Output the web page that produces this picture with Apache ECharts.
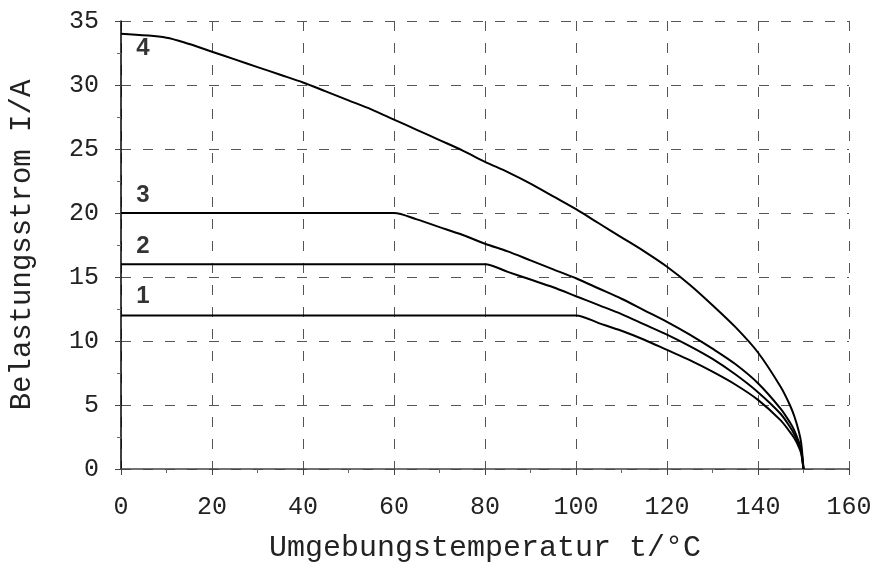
<!DOCTYPE html>
<html><head><meta charset="utf-8">
<script src="https://cdn.jsdelivr.net/npm/echarts@6/dist/echarts.min.js"></script>
<style>html,body{margin:0;padding:0;background:#fff}#c{width:882px;height:571px}</style>
</head><body><div id="c"></div>
<script>
var xTicks = [0,20,40,60,80,100,120,140,160];
var yTicks = [0,5,10,15,20,25,30,35];
var curve1 = [[0,12],[100,12],[105,11.4],[110,10.8],[115,10.1],[120,9.3],[125,8.5],[130,7.6],[135,6.6],[140,5.4],[145,3.8],[147,2.9],[148,2.4],[149,1.7],[149.5,1.2],[150,0]];
var curve2 = [[0,16],[80,16],[85,15.4],[90,14.8],[95,14.2],[100,13.5],[105,12.8],[110,12.1],[115,11.3],[120,10.5],[125,9.6],[130,8.6],[135,7.4],[140,6.0],[145,4.3],[147,3.3],[148,2.7],[149,1.9],[149.5,1.35],[150,0]];
var curve3 = [[0,20],[60,20],[65,19.5],[70,18.9],[75,18.3],[80,17.6],[85,17.0],[90,16.3],[95,15.6],[100,14.9],[105,14.1],[110,13.3],[115,12.4],[120,11.5],[125,10.5],[130,9.4],[135,8.2],[140,6.7],[145,4.7],[147,3.65],[148,3.0],[149,2.1],[149.5,1.5],[150,0]];
var curve4 = [[0,34],[10,33.7],[15,33.2],[20,32.6],[25,32.0],[30,31.4],[35,30.8],[40,30.2],[45,29.5],[50,28.8],[55,28.1],[60,27.3],[65,26.5],[70,25.7],[75,24.9],[80,24.0],[85,23.2],[90,22.3],[95,21.3],[100,20.3],[105,19.2],[110,18.1],[115,17.0],[120,15.8],[125,14.4],[130,12.8],[135,11.1],[140,9.1],[145,6.4],[147,5.0],[148,4.1],[149,2.9],[149.5,2.0],[150,0]];
var curveLabels = [[4.8,13.5,'1'],[4.8,17.4,'2'],[4.8,21.4,'3'],[4.8,32.9,'4']];

var mono = 'Liberation Mono';
function lineSeries(d){
  return {type:'line', data:d, smooth:0.3, symbol:'none', lineStyle:{color:'#000', width:2}, z:3};
}
var chart = echarts.init(document.getElementById('c'));
chart.setOption({
  animation:false,
  grid:{left:119, right:33, top:21, bottom:102},
  xAxis:{type:'value', min:0, max:160, interval:20,
    name:'Umgebungstemperatur t/°C', nameLocation:'middle', nameGap:64,
    nameTextStyle:{fontFamily:mono, fontSize:30, color:'#222'},
    axisLine:{lineStyle:{color:'#444', width:1.5}},
    axisTick:{show:true, length:6, inside:false, lineStyle:{color:'#444'}},
    minorTick:{show:true, splitNumber:2, length:4, lineStyle:{color:'#666'}},
    axisLabel:{fontFamily:mono, fontSize:25, color:'#222', margin:26},
    splitLine:{show:true, lineStyle:{color:'#555', type:[10,12], width:1}}
  },
  yAxis:{type:'value', min:0, max:35, interval:5,
    name:'Belastungsstrom I/A', nameLocation:'middle', nameGap:84, nameRotate:90,
    nameTextStyle:{fontFamily:mono, fontSize:29, color:'#222'},
    axisLine:{show:true, lineStyle:{color:'#000', width:1.5}},
    axisTick:{show:true, length:6, lineStyle:{color:'#444'}},
    minorTick:{show:true, splitNumber:2, length:4, lineStyle:{color:'#666'}},
    axisLabel:{fontFamily:mono, fontSize:25, color:'#222', margin:22},
    splitLine:{show:true, lineStyle:{color:'#555', type:[10,12], width:1}}
  },
  series:[
    lineSeries(curve1), lineSeries(curve2), lineSeries(curve3), lineSeries(curve4),
    {type:'scatter', data:curveLabels, symbolSize:0, z:4,
     label:{show:true, position:'inside', formatter:function(p){return p.data[2];},
       fontFamily:'Liberation Sans', fontWeight:'bold', fontSize:24, color:'#000'}}
  ]
});
</script></body></html>
